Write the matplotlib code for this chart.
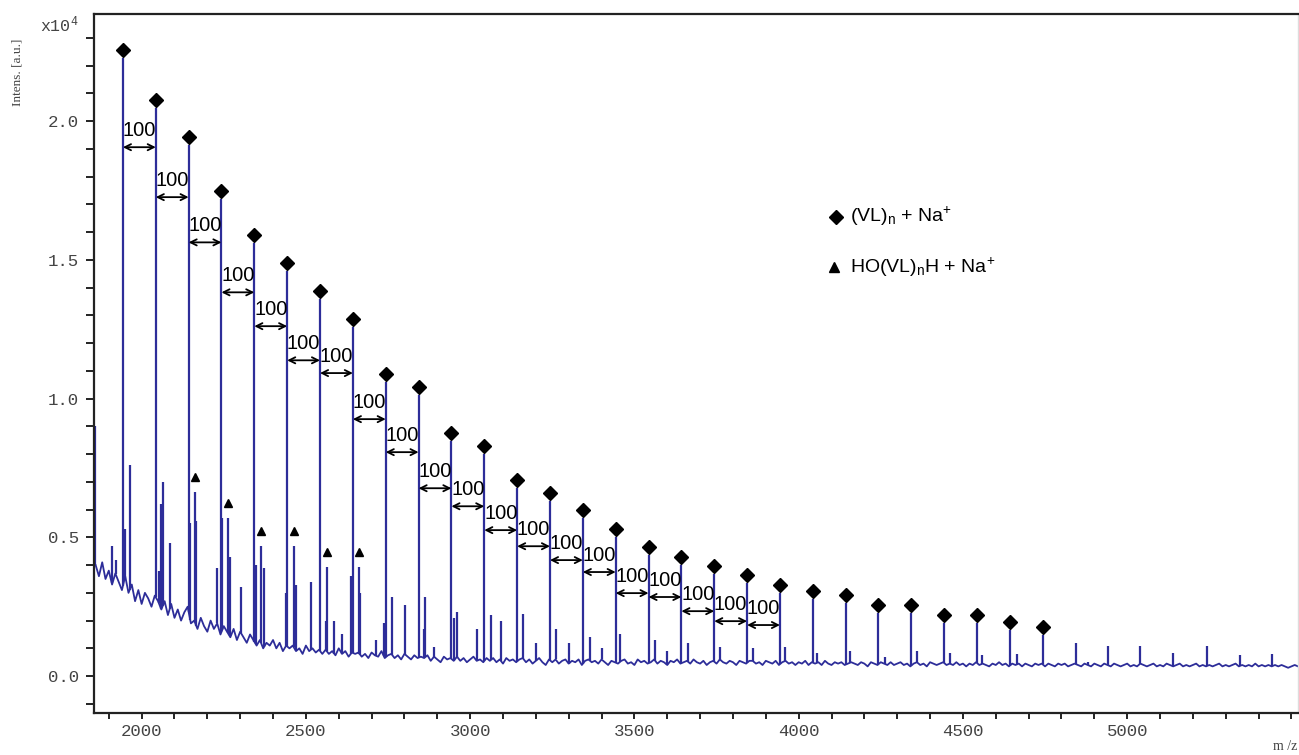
import numpy as np
import matplotlib
matplotlib.use("Agg")
import matplotlib.pyplot as plt
import matplotlib.transforms as mtransforms
from matplotlib.ticker import MultipleLocator, FixedLocator

plt.rcParams['mathtext.default'] = 'regular'

# (VL)n + Na+ peaks
main_mz = [1943, 2043, 2143, 2243, 2343, 2443, 2543, 2643, 2743, 2843,
           2943, 3043, 3143, 3243, 3343, 3443, 3543, 3643, 3743, 3843,
           3943, 4043, 4143, 4243, 4343, 4443, 4543, 4643, 4743]
main_int = [2.226, 2.046, 1.913, 1.718, 1.560, 1.459, 1.358, 1.257, 1.059, 1.012,
            0.847, 0.800, 0.677, 0.630, 0.569, 0.501, 0.436, 0.400, 0.367, 0.335,
            0.299, 0.277, 0.263, 0.227, 0.227, 0.191, 0.191, 0.166, 0.148]

# HO(VL)nH + Na+ peaks
tri_mz = [2162, 2263, 2363, 2463, 2564, 2663]
tri_int = [0.663, 0.569, 0.468, 0.468, 0.393, 0.393]

# other small peaks
minor_mz = [1858, 1911, 1921, 1948, 1964, 2052, 2060, 2064, 2085, 2148, 2167,
            2230, 2245, 2268, 2303, 2348, 2372, 2440, 2470, 2516, 2560, 2587,
            2610, 2637, 2665, 2712, 2737, 2762, 2803, 2859, 2864, 2891, 2950,
            2960, 3021, 3062, 3094, 3162, 3200, 3260, 3300, 3366, 3400, 3457,
            3564, 3600, 3664, 3761, 3862, 3959, 4057, 4157, 4263, 4361, 4461,
            4559, 4665, 4845, 4880, 4942, 5039, 5140, 5243, 5343, 5441]
minor_int = [0.90, 0.47, 0.42, 0.53, 0.76, 0.38, 0.62, 0.70, 0.48, 0.55, 0.56,
             0.39, 0.57, 0.43, 0.32, 0.40, 0.39, 0.30, 0.33, 0.34, 0.20, 0.20,
             0.15, 0.36, 0.30, 0.13, 0.19, 0.285, 0.255, 0.17, 0.285, 0.105, 0.21,
             0.23, 0.17, 0.22, 0.20, 0.225, 0.12, 0.17, 0.12, 0.14, 0.10, 0.15,
             0.13, 0.09, 0.12, 0.105, 0.10, 0.105, 0.085, 0.09, 0.07, 0.09, 0.085,
             0.075, 0.08, 0.12, 0.05, 0.11, 0.11, 0.085, 0.11, 0.075, 0.08]

# noisy baseline, one value every 10 m/z from 1860 (one row = 100 m/z)
base_int = [
    0.40, 0.36, 0.41, 0.35, 0.38, 0.33, 0.37, 0.34, 0.31, 0.36,
    0.30, 0.33, 0.27, 0.31, 0.26, 0.30, 0.28, 0.25, 0.29, 0.27,
    0.24, 0.27, 0.22, 0.26, 0.21, 0.24, 0.20, 0.23, 0.25, 0.19,
    0.20, 0.17, 0.21, 0.18, 0.16, 0.20, 0.17, 0.19, 0.15, 0.18,
    0.16, 0.14, 0.17, 0.13, 0.16, 0.14, 0.12, 0.15, 0.13, 0.11,
    0.13, 0.10, 0.12, 0.11, 0.13, 0.10, 0.12, 0.09, 0.11, 0.10,
    0.11, 0.09, 0.10, 0.08, 0.11, 0.09, 0.10, 0.085, 0.095, 0.08,
    0.095, 0.08, 0.09, 0.075, 0.10, 0.08, 0.09, 0.07, 0.085, 0.08,
    0.085, 0.07, 0.08, 0.065, 0.085, 0.075, 0.07, 0.09, 0.065, 0.075,
    0.08, 0.065, 0.075, 0.06, 0.08, 0.07, 0.06, 0.075, 0.065, 0.07,
    0.065, 0.075, 0.055, 0.07, 0.06, 0.05, 0.07, 0.06, 0.065, 0.055,
    0.07, 0.055, 0.065, 0.05, 0.06, 0.07, 0.055, 0.06, 0.05, 0.065,
    0.055, 0.065, 0.05, 0.06, 0.045, 0.065, 0.055, 0.06, 0.05, 0.06,
    0.065, 0.05, 0.06, 0.045, 0.055, 0.065, 0.05, 0.04, 0.06, 0.05,
    0.06, 0.045, 0.055, 0.06, 0.045, 0.055, 0.05, 0.06, 0.04, 0.055,
    0.06, 0.05, 0.055, 0.045, 0.06, 0.05, 0.04, 0.055, 0.05, 0.045,
    0.055, 0.06, 0.045, 0.05, 0.04, 0.06, 0.05, 0.055, 0.045, 0.05,
    0.06, 0.045, 0.055, 0.05, 0.04, 0.055, 0.05, 0.06, 0.045, 0.05,
    0.055, 0.045, 0.06, 0.05, 0.045, 0.055, 0.04, 0.05, 0.055, 0.045,
    0.06, 0.05, 0.045, 0.055, 0.05, 0.04, 0.055, 0.05, 0.045, 0.055,
    0.055, 0.045, 0.05, 0.04, 0.055, 0.05, 0.045, 0.055, 0.04, 0.05,
    0.055, 0.045, 0.05, 0.04, 0.05, 0.045, 0.055, 0.04, 0.05, 0.045,
    0.05, 0.04, 0.055, 0.045, 0.04, 0.05, 0.045, 0.05, 0.04, 0.045,
    0.05, 0.045, 0.04, 0.05, 0.045, 0.035, 0.05, 0.045, 0.04, 0.05,
    0.045, 0.04, 0.05, 0.04, 0.045, 0.05, 0.04, 0.045, 0.035, 0.045,
    0.05, 0.04, 0.045, 0.035, 0.05, 0.045, 0.04, 0.045, 0.05, 0.04,
    0.045, 0.04, 0.05, 0.04, 0.045, 0.035, 0.045, 0.04, 0.05, 0.04,
    0.045, 0.04, 0.035, 0.045, 0.04, 0.05, 0.04, 0.045, 0.035, 0.045,
    0.04, 0.045, 0.035, 0.045, 0.04, 0.035, 0.045, 0.04, 0.045, 0.035,
    0.045, 0.04, 0.035, 0.045, 0.04, 0.045, 0.035, 0.04, 0.045, 0.04,
    0.035, 0.045, 0.04, 0.035, 0.045, 0.04, 0.035, 0.045, 0.04, 0.035,
    0.045, 0.04, 0.035, 0.04, 0.045, 0.035, 0.04, 0.035, 0.045, 0.04,
    0.035, 0.04, 0.045, 0.035, 0.04, 0.035, 0.045, 0.04, 0.035, 0.04,
    0.045, 0.035, 0.04, 0.035, 0.04, 0.045, 0.035, 0.04, 0.035, 0.04,
    0.035, 0.04, 0.045, 0.035, 0.04, 0.035, 0.04, 0.045, 0.035, 0.04,
    0.035, 0.04, 0.035, 0.045, 0.035, 0.04, 0.035, 0.04, 0.035, 0.04,
    0.035, 0.04, 0.035, 0.03, 0.035, 0.04, 0.035]
base_mz = 1860 + 10 * np.arange(len(base_int))

# heights of the "100" arrows between neighbouring main peaks
arrow_y = [1.906, 1.726, 1.563, 1.383, 1.261, 1.138, 1.092, 0.926, 0.807, 0.677,
           0.612, 0.526, 0.468, 0.418, 0.375, 0.299, 0.285, 0.234, 0.198, 0.184]

x_ticks = [2000, 2500, 3000, 3500, 4000, 4500, 5000]

blue = '#2d2d99'

fig = plt.figure(figsize=(12.99, 7.55), dpi=100)
ax = fig.add_axes([94/1299, 42/755, 1204/1299, 699/755])

ax.plot(base_mz, base_int, color=blue, lw=1.3)
stick_mz = np.array(main_mz + tri_mz + minor_mz)
stick_int = np.array(main_int + tri_int + minor_int)
foot = np.interp(stick_mz, base_mz, base_int)
ax.vlines(stick_mz, foot, stick_int, color=blue, lw=1.6)

# markers above the peaks
up6 = mtransforms.offset_copy(ax.transData, fig, x=0, y=6, units='points')
up11 = mtransforms.offset_copy(ax.transData, fig, x=0, y=11, units='points')
ax.plot(main_mz, main_int, 'D', color='black', ms=7, transform=up6)
ax.plot(tri_mz, tri_int, '^', color='black', ms=6, transform=up11)

for k in range(len(arrow_y)):
    y = arrow_y[k]
    ax.annotate('', xy=(main_mz[k+1], y), xytext=(main_mz[k], y),
                arrowprops=dict(arrowstyle='<->', color='black', lw=1.3,
                                shrinkA=0, shrinkB=0, mutation_scale=11))
    ax.annotate('100', xy=((main_mz[k] + main_mz[k+1]) / 2, y), xytext=(0, 8),
                textcoords='offset points', ha='center', va='baseline',
                fontsize=14.5, family='Liberation Sans')

# legend
ax.plot([0.616], [0.710], 'D', color='black', ms=7, transform=ax.transAxes)
ax.plot([0.615], [0.638], '^', color='black', ms=6.5, transform=ax.transAxes)
ax.text(0.628, 0.710, r'(VL)$_n$ + Na$^{\!+}$', transform=ax.transAxes,
        va='center', ha='left', fontsize=14, family='Liberation Sans')
ax.text(0.628, 0.638, r'HO(VL)$_n$H + Na$^{\!+}$', transform=ax.transAxes,
        va='center', ha='left', fontsize=14, family='Liberation Sans')

ax.set_xlim(1855, 5520)
ax.set_ylim(-0.133, 2.386)
ax.xaxis.set_major_locator(FixedLocator(x_ticks))
ax.xaxis.set_minor_locator(MultipleLocator(100))
ax.yaxis.set_major_locator(MultipleLocator(0.5))
ax.yaxis.set_minor_locator(MultipleLocator(0.1))
ax.yaxis.set_major_formatter(plt.FormatStrFormatter('%.1f'))
ax.tick_params(axis='both', which='both', direction='out', width=1.4,
               color='#222222', labelcolor='#444444', labelsize=12.5)
ax.tick_params(axis='y', which='both', length=6, pad=5)
ax.tick_params(axis='x', which='both', length=4, pad=4)
for lab in ax.get_xticklabels() + ax.get_yticklabels():
    lab.set_family('Liberation Mono')

for s in ['left', 'bottom', 'top']:
    ax.spines[s].set_linewidth(1.6)
    ax.spines[s].set_color('#222222')
ax.spines['right'].set_color('#dddddd')
ax.spines['right'].set_linewidth(1)

fig.text(40/1299, 1 - 25/755, 'x10$^4$', ha='left', va='center', fontsize=12,
         family='Liberation Mono', color='#444444')
fig.text(18/1299, 1 - 72/755, 'Intens. [a.u.]', rotation=90, ha='center',
         va='center', fontsize=9.5, family='Liberation Serif', color='#444444')
fig.text(1297/1299, 1 - 746/755, 'm /z', ha='right', va='center', fontsize=10,
         family='Liberation Serif', color='#444444')

plt.savefig('out.png', dpi=100)
